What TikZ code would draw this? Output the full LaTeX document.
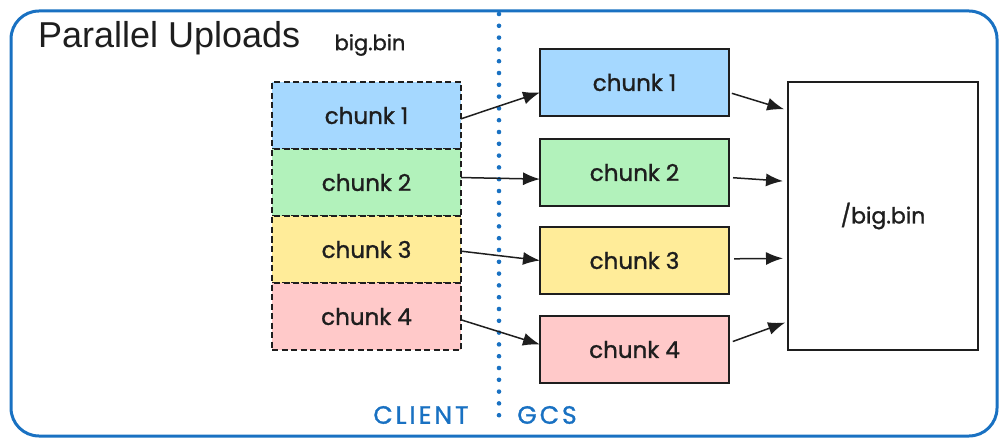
\documentclass[tikz,border=0pt]{standalone}
\usepackage{fontspec}
\setmainfont{Liberation Sans}
\newfontfamily\handfont[FakeBold=1.2]{Poppins}
\usetikzlibrary{positioning,arrows.meta}

\definecolor{ink}{HTML}{1E1E1E}
\definecolor{frameblue}{HTML}{1971C2}
\definecolor{chunkblue}{HTML}{A5D8FF}
\definecolor{chunkgreen}{HTML}{B2F2BB}
\definecolor{chunkyellow}{HTML}{FFEC99}
\definecolor{chunkred}{HTML}{FFC9C9}

\tikzset{
  chunkbox/.style={draw=ink, line width=1.5pt, minimum width=189pt, minimum height=67pt,
    inner sep=0pt, outer sep=0pt, font=\handfont\fontsize{23}{23}\selectfont, text=ink},
  partbox/.style={chunkbox, dash pattern=on 6pt off 3.5pt},
  hand/.style={font=\handfont\fontsize{21}{21}\selectfont, text=ink},
  side/.style={font=\handfont\fontsize{25}{25}\selectfont\addfontfeature{LetterSpace=12}, text=frameblue},
  flow/.style={draw=ink, line width=1.5pt, -{Latex[length=17pt,width=13pt]}},
}

\begin{document}
\begin{tikzpicture}[x=1pt, y=-1pt]
  \useasboundingbox (0,0) rectangle (1008,446);
  % ---------- frame ----------
  \draw[frameblue, line width=3pt, rounded corners=28pt] (11,11) rectangle (997,436);
  \node[anchor=base west, inner sep=0pt, font=\fontsize{36}{36}\selectfont, text=ink] (title) at (38,48) {Parallel Uploads};

  % client / gcs divider
  \draw[frameblue, line width=4.6pt, line cap=round, dash pattern=on 0pt off 11.8pt] (499,14) -- (499,425);
  \node[side] (client) at (421,415) {CLIENT};
  \node[side] (gcs) at (547,415) {GCS};

  % ---------- client side: split file ----------
  \node[hand] (file) at (370,45) {big.bin};
  \node[partbox, fill=chunkblue] (c1) at (366.5,115.5) {chunk 1};
  \node[partbox, fill=chunkgreen, below=0pt of c1] (c2) {chunk 2};
  \node[partbox, fill=chunkyellow, below=0pt of c2] (c3) {chunk 3};
  \node[partbox, fill=chunkred, below=0pt of c3] (c4) {chunk 4};

  % ---------- gcs side: uploaded parts ----------
  \node[chunkbox, fill=chunkblue] (g1) at (634.5,82.5) {chunk 1};
  \node[chunkbox, fill=chunkgreen, below=23pt of g1] (g2) {chunk 2};
  \node[chunkbox, fill=chunkyellow, below=21pt of g2] (g3) {chunk 3};
  \node[chunkbox, fill=chunkred, below=22pt of g3] (g4) {chunk 4};

  % composed object
  \node[chunkbox, fill=white, minimum width=190pt, minimum height=268pt, font=\handfont\fontsize{22}{22}\selectfont] (big) at (883,216) {/big.bin};

  % uploads
  \draw[flow] (c1.-2) -- (g1.186);
  \draw[flow] (c2.3) -- (g2.184);
  \draw[flow] (c3.-1) -- (g3.west);
  \draw[flow] (c4.-2) -- (g4.177);

  % compose
  \draw[flow, shorten <=3pt, shorten >=4pt] (g1.-6) -- (big.132);
  \draw[flow, shorten <=4pt, shorten >=5pt] (g2.-3) -- (big.160);
  \draw[flow, shorten <=5pt, shorten >=5pt] (g3.1) -- (big.204);
  \draw[flow, shorten <=4pt, shorten >=3pt] (g4.4) -- (big.228);
\end{tikzpicture}
\end{document}
